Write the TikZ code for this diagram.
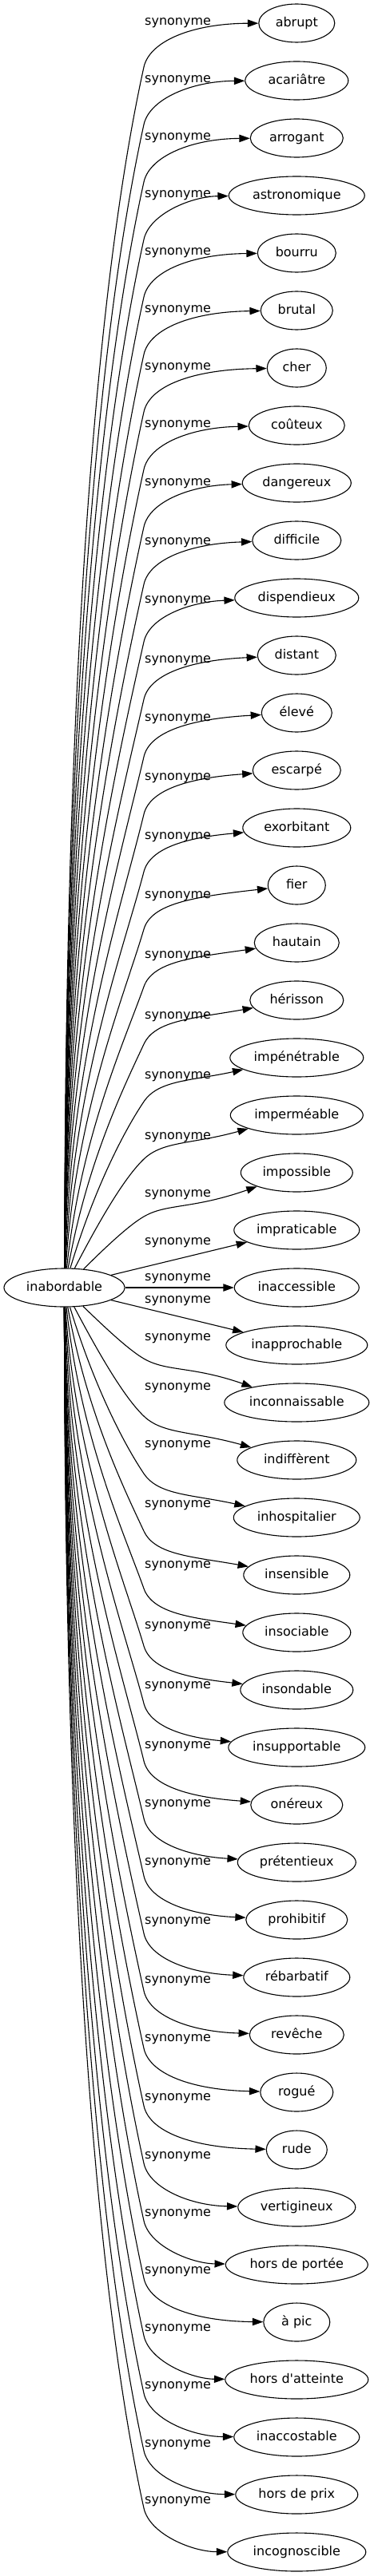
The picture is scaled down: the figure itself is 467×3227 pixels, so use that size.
\documentclass[tikz,border=0pt]{standalone}
\usepackage{fontspec}
\setmainfont{DejaVu Sans}[Ligatures=TeXOff]
\usetikzlibrary{arrows.meta,shapes.geometric}
\begin{document}
\begin{tikzpicture}[x=1pt,y=-1pt,
  word/.style={draw, ellipse, line width=1.1pt, minimum height=48pt, inner sep=0pt,
    text height=12.5pt, text depth=3.3pt, font=\fontsize{16pt}{19pt}\selectfont},
  lab/.style={inner sep=0pt, font=\fontsize{16pt}{19pt}\selectfont},
  syn/.style={line width=1.1pt, -{Triangle[length=13.3pt,width=9.3pt]}}]
\useasboundingbox (0,0) rectangle (467,3227);
\node[word, minimum width=151pt] (inab) at (80.5,1613) {inabordable};
\foreach \i/\w/\t in {0/95/abrupt, 1/129/acariâtre, 2/116/arrogant, 3/170/astronomique,
  4/98/bourru, 5/90/brutal, 6/74/cher, 7/120/coûteux, 8/136/dangereux, 9/111/difficile,
  10/155/dispendieux, 11/98/distant, 12/88/élevé, 13/110/escarpé, 14/135/exorbitant,
  15/72/fier, 16/106/hautain, 17/117/hérisson, 18/167/impénétrable, 19/166/imperméable,
  20/140/impossible, 21/157/impraticable, 22/156/inaccessible, 23/177/inapprochable,
  24/181/inconnaissable, 25/149/indiffèrent, 26/158/inhospitalier, 27/133/insensible,
  28/135/insociable, 29/141/insondable, 30/171/insupportable, 31/115/onéreux,
  32/148/prétentieux, 33/127/prohibitif, 34/133/rébarbatif, 35/118/revêche, 36/91/rogué,
  37/76/rude, 38/147/vertigineux, 39/178/hors de portée, 40/83/à pic,
  41/179/hors d'atteinte, 42/157/inaccostable, 43/153/hors de prix, 44/173/incognoscible} {
  \node[word, minimum width=\w pt] (n\i) at (371.3,{29+72*\i}) {\t};
}
\foreach \y [count=\c] in {29, 101, 173, 245, 316.7, 389, 461, 532.7, 605.7, 679.3, 752.3,
  827.3, 901, 974.3, 1048.3, 1122.7, 1197.3, 1273.3, 1349, 1425, 1497, 1557, 1602, 1630,
  1677, 1739, 1811, 1886, 1962, 2038, 2113, 2188, 2261, 2334, 2408, 2482, 2555, 2629,
  2702, 2774, 2846, 2918, 2990, 3063, 3134} {
  \node[lab] (l\c) at (222.6,\y) {synonyme};
}
\draw[syn] (inab) -- (n22);
\draw[syn] (inab.15) -- (n21);
\draw[syn] (inab.345) -- (n23);
\foreach \k in {2,...,22} {
  \pgfmathtruncatemacro\iu{22-\k}
  \pgfmathtruncatemacro\il{22+\k}
  \pgfmathsetmacro\th{90-75*exp(-0.5*(\k-1))}
  \pgfmathsetmacro\thl{360-\th}
  \pgfmathsetmacro\r{1812/sqrt(576*cos(\th)^2+5700.25*sin(\th)^2)}
  \pgfmathsetmacro\sx{80.5+\r*cos(\th)}
  \pgfmathsetmacro\sdy{\r*sin(\th)}
  \pgfmathsetmacro\kdy{72*\k-55}
  \pgfmathsetmacro\L{100*veclen((180-\sx)/100,(\kdy-\sdy)/100)}
  \pgfmathsetmacro\u{0.22+1.5*exp(-0.6*(\k-2))}
  \pgfmathsetmacro\n{sqrt(\u*\u+1)}
  \pgfmathsetmacro\tx{\u/\n}
  \pgfmathsetmacro\ty{1/\n}
  \pgfmathsetmacro\e{46*exp(-0.23*(\k-2))}
  \pgfmathsetmacro\cax{\sx+0.45*\L*cos(\th)}
  \pgfmathsetmacro\cady{\sdy+0.45*\L*sin(\th)}
  \pgfmathsetmacro\cbx{180-0.2*\L*\tx}
  \pgfmathsetmacro\cbdy{\kdy-0.2*\L*\ty}
  \pgfmathsetmacro\ccx{180+33*\tx}
  \pgfmathsetmacro\ccdy{\kdy+33*\ty}
  \pgfmathsetmacro\cddy{72*\k-\e}
  \draw[syn] (inab.\th) .. controls (\cax,{1613-\cady}) and (\cbx,{1613-\cbdy})
    .. (180,{1613-\kdy}) .. controls (\ccx,{1613-\ccdy}) and (240,{1613-\cddy}) .. (n\iu);
  \draw[syn] (inab.\thl) .. controls (\cax,{1613+\cady}) and (\cbx,{1613+\cbdy})
    .. (180,{1613+\kdy}) .. controls (\ccx,{1613+\ccdy}) and (240,{1613+\cddy}) .. (n\il);
}
\end{tikzpicture}
\end{document}
